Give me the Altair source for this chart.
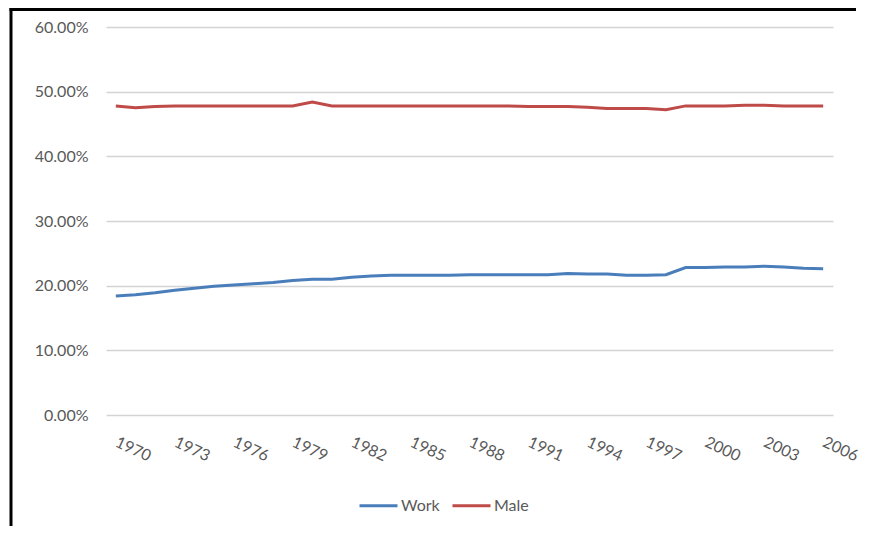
import altair as alt
import pandas as pd

years = list(range(1970, 2007))
work = [18.4, 18.6, 18.9, 19.3, 19.6, 19.9, 20.1, 20.3, 20.5, 20.8,
        21.0, 21.0, 21.3, 21.5, 21.6, 21.6, 21.6, 21.6, 21.7, 21.7,
        21.7, 21.7, 21.7, 21.9, 21.8, 21.8, 21.6, 21.6, 21.7, 22.8,
        22.8, 22.9, 22.9, 23.0, 22.9, 22.7, 22.6]
male = [47.8, 47.5, 47.7, 47.8, 47.8, 47.8, 47.8, 47.8, 47.8, 47.8,
        48.4, 47.8, 47.8, 47.8, 47.8, 47.8, 47.8, 47.8, 47.8, 47.8,
        47.8, 47.7, 47.7, 47.7, 47.6, 47.4, 47.4, 47.4, 47.2, 47.8,
        47.8, 47.8, 47.9, 47.9, 47.8, 47.8, 47.8]
series_names = ["Work", "Male"]
series_colors = ["#4A7EBB", "#BE4B48"]
tick_years = list(range(1970, 2007, 3))
y_ticks = [0, 0.1, 0.2, 0.3, 0.4, 0.5, 0.6]

rows = []
for name, vals in zip(series_names, [work, male]):
    for yr, v in zip(years, vals):
        rows.append({"Year": yr, "Value": v / 100.0, "Series": name})
df = pd.DataFrame(rows)

FONT = "Lato"
TXT = "#595959"

lines = alt.Chart(df).mark_line(strokeWidth=3).encode(
    x=alt.X("Year:Q",
            scale=alt.Scale(domain=[1969.5, 2006.5], nice=False, zero=False),
            axis=alt.Axis(values=tick_years, format="d", title=None, grid=False,
                          domain=False, ticks=False, labelAngle=25, labelAlign="left",
                          labelBaseline="middle", labelPadding=26, labelFontSize=16,
                          labelColor=TXT, labelFont=FONT)),
    y=alt.Y("Value:Q",
            scale=alt.Scale(domain=[0, 0.6], nice=False),
            axis=alt.Axis(values=y_ticks, format=".2%", title=None, domain=False,
                          ticks=False, labelPadding=18, labelFontSize=16,
                          labelColor=TXT, labelFont=FONT, gridColor="#d4d4d4",
                          gridWidth=1.5)),
    color=alt.Color("Series:N",
                    scale=alt.Scale(domain=series_names, range=series_colors),
                    sort=series_names,
                    legend=alt.Legend(title=None, orient="none", direction="horizontal",
                                      legendX=252, legendY=458, symbolType="stroke",
                                      symbolSize=1444, symbolStrokeWidth=3,
                                      labelFontSize=16, labelFont=FONT, labelColor=TXT,
                                      labelOffset=2, columnPadding=6)),
)

border_parts = pd.DataFrame({
    "part": ["left", "top"],
})
left_border = alt.Chart(border_parts).transform_filter(
    alt.datum.part == "left").mark_rect(color="black").encode(
    x=alt.value(-96.5), x2=alt.value(-93.5), y=alt.value(-19), y2=alt.value(500))
top_border = alt.Chart(border_parts).transform_filter(
    alt.datum.part == "top").mark_rect(color="black").encode(
    x=alt.value(-96.5), x2=alt.value(750), y=alt.value(-19), y2=alt.value(-16))

chart = alt.layer(lines, left_border, top_border).properties(
    width=727, height=388,
    background="white",
    autosize=alt.AutoSizeParams(type="none"),
    padding={"left": 98, "top": 19, "right": 29, "bottom": 111},
).configure_view(strokeWidth=0, stroke="transparent")

chart.save("out.html", embed_options={"renderer": "svg", "actions": False})
